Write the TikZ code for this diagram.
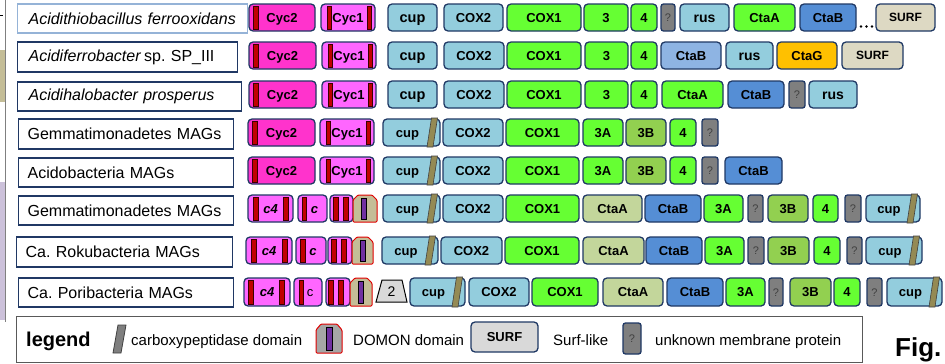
\documentclass[tikz,border=0pt]{standalone}
\usepackage{fontspec}
\setmainfont{Liberation Sans}
\usetikzlibrary{calc}
\frenchspacing

% palette
\definecolor{boxnavy}{HTML}{1F3864}
\definecolor{labnavy}{HTML}{203864}
\definecolor{labsteel}{HTML}{95B3D7}
\definecolor{cyctwo}{HTML}{FF33CC}
\definecolor{cycone}{HTML}{FF66FF}
\definecolor{cupblue}{HTML}{93CDDD}
\definecolor{coxgreen}{HTML}{66FF33}
\definecolor{olivegreen}{HTML}{92D050}
\definecolor{palegreen}{HTML}{C3D69B}
\definecolor{ctabblue}{HTML}{558ED5}
\definecolor{ctablight}{HTML}{8EB4E3}
\definecolor{ctagorange}{HTML}{FFC000}
\definecolor{surfbeige}{HTML}{DDD9C3}
\definecolor{unkgray}{HTML}{7F7F7F}
\definecolor{cpbrown}{HTML}{948A54}
\definecolor{domontan}{HTML}{C4BD97}
\definecolor{domonred}{HTML}{E00000}
\definecolor{domonpurple}{HTML}{7030A0}
\definecolor{hemered}{HTML}{C00000}
\definecolor{paleGray}{HTML}{D9D9D9}
\definecolor{stripTan}{HTML}{C4BD97}
\definecolor{stripLav}{HTML}{CCC1DA}

% fonts
\newcommand\genefont{\bfseries\fontsize{13}{14}\selectfont}
\newcommand\cupfont{\bfseries\fontsize{14.5}{16}\selectfont}
\newcommand\rusfont{\bfseries\fontsize{14}{15}\selectfont}
\newcommand\surffont{\bfseries\fontsize{12}{13}\selectfont}
\newcommand\unkfont{\fontsize{11}{12}\selectfont}
\newcommand\labfont{\fontsize{16}{18}\selectfont}
\newcommand\legfont{\fontsize{15}{17}\selectfont}

\tikzset{
  gene/.style={draw=boxnavy, line width=1.3pt, rounded corners=4pt, inner sep=0pt,
    text height=9.3pt, text depth=0pt, font=\genefont, text=black},
  gCycTwo/.style={gene, fill=cyctwo},
  gCycOne/.style={gene, fill=cycone},
  gBlue/.style={gene, fill=cupblue},
  gGreen/.style={gene, fill=coxgreen},
  gOlive/.style={gene, fill=olivegreen},
  gPale/.style={gene, fill=palegreen},
  gCtaB/.style={gene, fill=ctabblue},
  gCtaBl/.style={gene, fill=ctablight},
  gOrange/.style={gene, fill=ctagorange},
  gSurf/.style={gene, fill=surfbeige, font=\surffont, text height=8.6pt},
  gUnk/.style={gene, fill=unkgray, font=\unkfont, text=black!75, rounded corners=2.5pt, text height=8pt},
  labbox/.style={draw=labnavy, line width=1.2pt, fill=white, align=left, font=\labfont, inner ysep=0pt},
  hemebar/.style={fill=hemered, draw=black!70!hemered, line width=0.6pt},
  cpslashsty/.style={fill=cpbrown, draw=black!75, line width=0.6pt},
  domonsty/.style={fill=domontan, draw=domonred, line width=1pt, rounded corners=1pt},
  purplebar/.style={fill=domonpurple, draw=black, line width=0.6pt},
  legtext/.style={font=\legfont, inner sep=0pt, anchor=base west},
}

% gene box: name, left x, right x, style, text (row extent from \rowtop/\rowbot)
\newcommand\gn[5]{%
  \pgfmathsetmacro\genw{#3-#2}%
  \pgfmathsetmacro\genx{(#2+#3)/2}%
  \pgfmathsetmacro\genh{\rowbot-\rowtop}%
  \pgfmathsetmacro\geny{(\rowtop+\rowbot)/2}%
  \node[#4, minimum width=\genw pt, minimum height=\genh pt] (#1) at (\genx,\geny) {#5};}
% heme-binding band inside a cytochrome box
\newcommand\hemeband[2]{\draw[hemebar] (#1,\rowtop+1.8) rectangle (#2,\rowbot-1.8);}
% carboxypeptidase domain at the right end of a box
\newcommand\cpslash[1]{\draw[cpslashsty] (#1-13,\rowbot+1) -- (#1-7,\rowbot+1) -- (#1-2.5,\rowtop-1) -- (#1-8.5,\rowtop-1) -- cycle;}
% DOMON domain: left x, right x, bar x
\newcommand\domon[3]{%
  \draw[domonsty] (#1,\rowbot) -- (#1,\rowtop+5) -- (#1+5,\rowtop) -- (#2-5,\rowtop) -- (#2,\rowtop+5) -- (#2,\rowbot) -- cycle;
  \draw[purplebar] (#3,\rowtop+3) rectangle (#3+5,\rowbot-3);}
% organism label box: name, x1, x2, y1, y2, text
\newcommand\labinset{11}
\newcommand\lab[6]{%
  \pgfmathsetmacro\labw{#3-#2-2*\labinset}%
  \pgfmathsetmacro\labh{#5-#4}%
  \pgfmathsetmacro\laby{(#4+#5)/2}%
  \node[labbox, anchor=west, inner xsep=\labinset pt, text width=\labw pt, minimum height=\labh pt] (#1) at (#2,\laby) {#6};}

\begin{document}
\begin{tikzpicture}[x=1pt,y=-1pt]
\useasboundingbox (0,0) rectangle (945,364);
\clip (0,0) rectangle (945,364);

% margin strip on the left
\fill[stripTan] (0,50) rectangle (4.5,102);
\fill[stripLav] (0,182) rectangle (4.5,320);
\draw[black!50, line width=0.8pt] (5,0) -- (5,322);
\draw[black, line width=0.6pt] (0,15) -- (2.5,15);

% ---------- organism labels ----------
\begin{scope}[labbox/.append style={draw=labsteel}]
\lab{l1}{17}{247}{4}{33}{\itshape Acidithiobacillus ferrooxidans}
\end{scope}
\lab{l2}{17}{237}{42}{72}{\textit{Acidiferrobacter}\kern3pt sp. SP\_III}
\lab{l3}{17}{241}{82}{111}{\itshape Acidihalobacter prosperus}
\renewcommand\labinset{9}
\lab{l4}{18}{233}{119}{149}{Gemmatimonadetes MAGs}
\lab{l5}{18}{233}{158}{187}{Acidobacteria MAGs}
\lab{l6}{18}{233}{196}{225}{Gemmatimonadetes MAGs}
\lab{l7}{16}{232}{237}{267}{Ca. Rokubacteria MAGs}
\lab{l8}{18}{233}{278}{307}{Ca. Poribacteria MAGs}

% ---------- row 1 ----------
\def\rowtop{4}\def\rowbot{31}
\gn{a1}{249}{315}{gCycTwo}{Cyc2}\hemeband{253}{258}
\gn{a2}{321}{375}{gCycOne}{Cyc1}\hemeband{327}{331}\hemeband{367}{371}
\gn{a3}{388}{437}{gBlue,font=\cupfont}{cup}
\gn{a4}{444}{503}{gBlue}{COX2}
\gn{a5}{507}{581}{gGreen}{COX1}
\gn{a6}{584}{628}{gGreen}{3}
\gn{a7}{631}{657}{gGreen}{4}
\gn{a8}{661}{675}{gUnk}{?}
\gn{a9}{680}{729}{gBlue,font=\rusfont}{rus}
\gn{a10}{734}{795}{gGreen}{CtaA}
\gn{a11}{800}{856}{gCtaB}{CtaB}
\foreach \dx in {861,866.5,872} \fill (\dx,26.5) circle (1.3);
\gn{a12}{876}{935}{gSurf}{SURF}

% ---------- row 2 ----------
\def\rowtop{42}\def\rowbot{69}
\gn{b1}{249}{316}{gCycTwo}{Cyc2}\hemeband{253}{258}
\gn{b2}{322}{376}{gCycOne}{Cyc1}\hemeband{328}{332}\hemeband{368}{372}
\gn{b3}{388}{437}{gBlue,font=\cupfont}{cup}
\gn{b4}{444}{504}{gBlue}{COX2}
\gn{b5}{507}{581}{gGreen}{COX1}
\gn{b6}{585}{628}{gGreen}{3}
\gn{b7}{631}{657}{gGreen}{4}
\gn{b8}{661}{721}{gCtaBl}{CtaB}
\gn{b9}{726}{773}{gBlue,font=\rusfont}{rus}
\gn{b10}{777}{837}{gOrange}{CtaG}
\gn{b11}{842}{903}{gSurf}{SURF}

% ---------- row 3 ----------
\def\rowtop{81}\def\rowbot{108}
\gn{c1}{249}{316}{gCycTwo}{Cyc2}\hemeband{253}{258}
\gn{c2}{322}{376}{gCycOne}{Cyc1}\hemeband{328}{332}\hemeband{368}{372}
\gn{c3}{388}{437}{gBlue,font=\cupfont}{cup}
\gn{c4}{444}{504}{gBlue}{COX2}
\gn{c5}{507}{581}{gGreen}{COX1}
\gn{c6}{585}{628}{gGreen}{3}
\gn{c7}{631}{657}{gGreen}{4}
\gn{c8}{662}{723}{gGreen}{CtaA}
\gn{c9}{728}{784}{gCtaB}{CtaB}
\gn{c10}{789}{805}{gUnk}{?}
\gn{c11}{809}{857}{gBlue,font=\rusfont}{rus}

% ---------- row 4 ----------
\def\rowtop{119}\def\rowbot{146}
\gn{d1}{248}{315}{gCycTwo}{Cyc2}\hemeband{252}{257}
\gn{d2}{320}{374}{gCycOne}{Cyc1}\hemeband{326}{330}\hemeband{366}{370}
\gn{d3}{383}{440}{gBlue}{\kern-8pt cup}\cpslash{440}
\gn{d4}{443}{503}{gBlue}{COX2}
\gn{d5}{506}{579}{gGreen}{COX1}
\gn{d6}{583}{623}{gGreen}{3A}
\gn{d7}{626}{666}{gOlive}{3B}
\gn{d8}{670}{696}{gGreen}{4}
\gn{d9}{702}{718}{gUnk}{?}

% ---------- row 5 ----------
\def\rowtop{157}\def\rowbot{184}
\gn{e1}{248}{315}{gCycTwo}{Cyc2}\hemeband{252}{257}
\gn{e2}{320}{374}{gCycOne}{Cyc1}\hemeband{326}{330}\hemeband{366}{370}
\gn{e3}{383}{440}{gBlue}{\kern-8pt cup}\cpslash{440}
\gn{e4}{443}{503}{gBlue}{COX2}
\gn{e5}{506}{579}{gGreen}{COX1}
\gn{e6}{583}{623}{gGreen}{3A}
\gn{e7}{626}{666}{gOlive}{3B}
\gn{e8}{670}{696}{gGreen}{4}
\gn{e9}{702}{718}{gUnk}{?}
\gn{e10}{725}{782}{gCtaB}{CtaB}

% ---------- row 6 ----------
\def\rowtop{195}\def\rowbot{222}
\gn{f1}{248}{293}{gCycOne}{\itshape c4}\hemeband{253}{258}\hemeband{283}{288}
\gn{f2}{298}{327}{gCycOne}{\itshape\kern4pt c}\hemeband{302}{306}
\gn{f3}{330}{353}{gCycOne}{}\hemeband{333}{338}\hemeband{343}{348}
\domon{353}{377}{361}
\gn{f5}{383}{440}{gBlue}{\kern-8pt cup}\cpslash{440}
\gn{f6}{443}{503}{gBlue}{COX2}
\gn{f7}{506}{579}{gGreen}{COX1}
\gn{f8}{583}{642}{gPale}{CtaA}
\gn{f9}{645}{701}{gCtaB}{CtaB}
\gn{f10}{704}{743}{gGreen}{3A}
\gn{f11}{748}{763}{gUnk}{?}
\gn{f12}{768}{808}{gOlive}{3B}
\gn{f13}{813}{838}{gGreen}{4}
\gn{f14}{845}{861}{gUnk}{?}
\gn{f15}{866}{920}{gBlue}{\kern-8pt cup}\cpslash{920}

% ---------- row 7 ----------
\def\rowtop{237}\def\rowbot{264}
\gn{g1}{246}{292}{gCycOne}{\itshape c4}\hemeband{251}{256}\hemeband{282}{287}
\gn{g2}{296}{326}{gCycOne}{\itshape\kern4pt c}\hemeband{300}{305}
\gn{g3}{328}{352}{gCycOne}{}\hemeband{331}{336}\hemeband{341}{346}
\domon{352}{373}{360}
\gn{g5}{382}{438}{gBlue}{\kern-8pt cup}\cpslash{438}
\gn{g6}{441}{502}{gBlue}{COX2}
\gn{g7}{505}{579}{gGreen}{COX1}
\gn{g8}{583}{644}{gPale}{CtaA}
\gn{g9}{646}{702}{gCtaB}{CtaB}
\gn{g10}{705}{744}{gGreen}{3A}
\gn{g11}{748}{764}{gUnk}{?}
\gn{g12}{768}{809}{gOlive}{3B}
\gn{g13}{814}{840}{gGreen}{4}
\gn{g14}{847}{862}{gUnk}{?}
\gn{g15}{866}{922}{gBlue}{\kern-8pt cup}\cpslash{922}

% ---------- row 8 ----------
\def\rowtop{278}\def\rowbot{306}
\gn{h1}{244}{290}{gCycOne}{\itshape c4}\hemeband{248}{253}\hemeband{279}{284}
\gn{h2}{294}{322}{gCycOne,font=\fontsize{13}{14}\selectfont}{\kern4pt c}\hemeband{299}{303}
\gn{h3}{326}{350}{gCycOne}{}\hemeband{328}{333}\hemeband{338}{343}
\domon{350}{372}{358}
\draw[fill=paleGray, draw=black, line width=1pt] (376,302) -- (407,302) -- (402,280) -- (382,280) -- cycle;
\node[font=\fontsize{14}{15}\selectfont, inner sep=0] (h2x) at (391.5,292) {2};
\gn{h5}{410}{465}{gBlue}{\kern-8pt cup}\cpslash{465}
\gn{h6}{469}{529}{gBlue}{COX2}
\gn{h7}{532}{598}{gGreen}{COX1}
\gn{h8}{603}{663}{gPale}{CtaA}
\gn{h9}{667}{723}{gCtaB}{CtaB}
\gn{h10}{726}{765}{gGreen}{3A}
\gn{h11}{769}{783}{gUnk}{?}
\gn{h12}{790}{831}{gOlive}{3B}
\gn{h13}{834}{860}{gGreen}{4}
\gn{h14}{867}{882}{gUnk}{?}
\gn{h15}{887}{942}{gBlue}{\kern-8pt cup}\cpslash{942}

% ---------- legend ----------
\node[draw=black!65, line width=1.2pt, minimum width=846pt, minimum height=46pt, anchor=north west, inner sep=0pt] (legendbox) at (16,316) {};
\node[font=\bfseries\fontsize{20}{22}\selectfont, inner sep=0pt, anchor=base west] (legtitle) at (26,346.5) {legend};
\draw[fill=unkgray, draw=black!75, line width=0.8pt] (113,353) -- (121,353) -- (126,325) -- (118,325) -- cycle;
\node[legtext] (lt1) at (131,345.5) {carboxypeptidase domain};
\draw[fill=black!35, draw=domonred, line width=1pt, rounded corners=1pt] (316,353) -- (316,330) -- (321,324) -- (337,324) -- (342,330) -- (342,353) -- cycle;
\draw[purplebar] (326,327) rectangle (332,350);
\node[legtext] (lt2) at (353,345.5) {DOMON domain};
\node[gene, fill=paleGray, minimum width=67pt, minimum height=30pt] (legsurf) at (504.5,337) {SURF};
\node[legtext] (lt3) at (553,345.5) {Surf-like};
\node[gUnk, minimum width=18pt, minimum height=31pt] (legunk) at (632,338.5) {?};
\node[legtext] (lt4) at (655,345.5) {unknown membrane protein};
\node[font=\bfseries\fontsize{26}{28}\selectfont, inner sep=0pt, anchor=base west] (fig) at (895,356.5) {Fig.};
\end{tikzpicture}
\end{document}
